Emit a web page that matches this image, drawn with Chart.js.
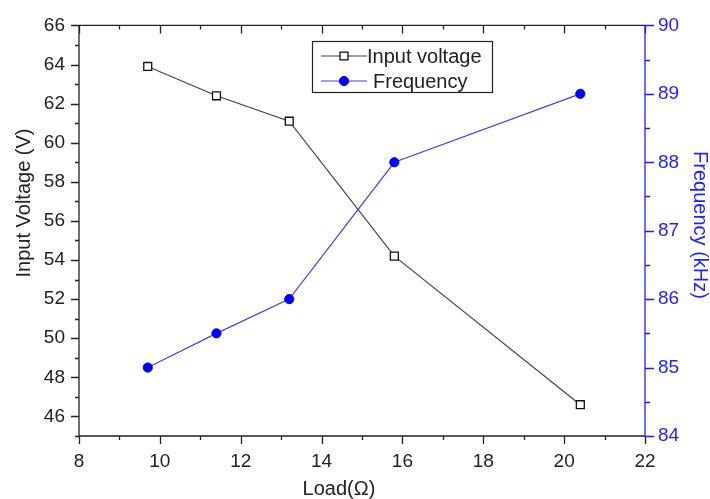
<!DOCTYPE html>
<html>
<head>
<meta charset="utf-8">
<script src="https://cdn.jsdelivr.net/npm/chart.js@4.4.1/dist/chart.umd.min.js"></script>
<style>
  html, body { margin: 0; padding: 0; background: #fff; }
  #wrap { width: 710px; height: 499px; position: relative; }
</style>
</head>
<body>
<div id="wrap"><canvas id="chart"></canvas></div>
<script>
// data
const loadOhm = [9.7, 11.4, 13.2, 15.8, 20.4];
const inputVoltage = [63.9, 62.4, 61.1, 54.2, 46.6];
const frequencyKHz = [85, 85.5, 86, 88, 89];

// tick labels
const xTicks = [8, 10, 12, 14, 16, 18, 20, 22];
const leftTicks = [46, 48, 50, 52, 54, 56, 58, 60, 62, 64, 66];
const rightTicks = [84, 85, 86, 87, 88, 89, 90];

const seriesLabels = ['Input voltage', 'Frequency'];
const axisTitles = { x: 'Load(Ω)', y: 'Input Voltage (V)', y2: 'Frequency (kHz)' };

const BLUE = '#1f1fff';
const INK = '#222';
const FONT = 'Liberation Sans, Arial, sans-serif';

// axes lines + major/minor ticks the Origin way
const axesFrame = {
  id: 'axesFrame',
  beforeDatasetsDraw(chart) {
    const { ctx, chartArea: a, scales } = chart;
    const x = scales.x, yl = scales.y, yr = scales.y2;
    ctx.save();
    ctx.lineWidth = 1.3;
    ctx.strokeStyle = INK;
    ctx.beginPath();
    ctx.moveTo(a.left, a.top); ctx.lineTo(a.right, a.top);
    ctx.moveTo(a.left, a.bottom); ctx.lineTo(a.right, a.bottom);
    ctx.moveTo(a.left, a.top); ctx.lineTo(a.left, a.bottom);
    // x ticks: bottom outward, top inward
    for (let v = 8; v <= 22; v += 1) {
      const px = Math.round(x.getPixelForValue(v)) + 0.5;
      const len = v % 2 === 0 ? 8 : 4;
      ctx.moveTo(px, a.bottom); ctx.lineTo(px, a.bottom + len);
      ctx.moveTo(px, a.top); ctx.lineTo(px, a.top + len);
    }
    // left ticks outward
    for (let v = 45; v <= 66; v += 1) {
      const py = Math.round(yl.getPixelForValue(v)) + 0.5;
      const len = v % 2 === 0 ? 8 : 4;
      ctx.moveTo(a.left, py); ctx.lineTo(a.left - len, py);
    }
    ctx.stroke();

    ctx.strokeStyle = BLUE;
    ctx.beginPath();
    ctx.moveTo(a.right, a.top); ctx.lineTo(a.right, a.bottom);
    for (let v = 84; v <= 90; v += 0.5) {
      const py = Math.round(yr.getPixelForValue(v)) + 0.5;
      const len = Number.isInteger(v) ? 9 : 5;
      ctx.moveTo(a.right, py); ctx.lineTo(a.right + len, py);
    }
    ctx.stroke();

    // axis titles (placed like the original, a bit off-centre)
    ctx.font = '20px ' + FONT;
    ctx.textAlign = 'center';
    ctx.textBaseline = 'middle';
    ctx.fillStyle = INK;
    ctx.fillText(axisTitles.x, 339, 489);
    ctx.save();
    ctx.translate(24, 203);
    ctx.rotate(-Math.PI / 2);
    ctx.fillText(axisTitles.y, 0, 0);
    ctx.restore();
    ctx.save();
    ctx.fillStyle = BLUE;
    ctx.translate(700, 225);
    ctx.rotate(Math.PI / 2);
    ctx.fillText(axisTitles.y2, 0, 0);
    ctx.restore();
    ctx.restore();
  }
};

// legend box inside the plot
const boxLegend = {
  id: 'boxLegend',
  afterDatasetsDraw(chart) {
    const { ctx } = chart;
    const bx = 312, by = 41, bw = 180, bh = 51;
    ctx.save();
    ctx.fillStyle = '#fff';
    ctx.fillRect(bx, by, bw, bh);
    ctx.strokeStyle = INK;
    ctx.lineWidth = 1.2;
    ctx.strokeRect(bx + 0.5, by + 0.5, bw, bh);
    ctx.font = '20px ' + FONT;
    ctx.textBaseline = 'middle';

    chart.data.datasets.forEach((ds, i) => {
      const cy = by + 15 + i * 25;
      ctx.strokeStyle = ds.borderColor;
      ctx.lineWidth = 1.2;
      ctx.beginPath();
      ctx.moveTo(bx + 9, cy); ctx.lineTo(bx + 55, cy);
      ctx.stroke();
      ctx.fillStyle = ds.pointBackgroundColor;
      ctx.strokeStyle = ds.pointBorderColor;
      ctx.lineWidth = ds.pointBorderWidth;
      ctx.beginPath();
      if (ds.pointStyle === 'rect') {
        const s = ds.pointRadius * Math.SQRT1_2;
        ctx.rect(bx + 32 - s, cy - s, 2 * s, 2 * s);
      } else {
        ctx.arc(bx + 32, cy, ds.pointRadius, 0, Math.PI * 2);
      }
      ctx.fill();
      ctx.stroke();
      ctx.fillStyle = INK;
      ctx.fillText(ds.label, bx + (i === 0 ? 55 : 61), cy + 1);
    });
    ctx.restore();
  }
};

const config = {
  type: 'line',
  data: {
    datasets: [
      {
        label: seriesLabels[0],
        data: loadOhm.map((v, i) => ({ x: v, y: inputVoltage[i] })),
        yAxisID: 'y',
        borderColor: '#444',
        borderWidth: 1.2,
        pointStyle: 'rect',
        pointRadius: 5.6,
        pointBorderWidth: 1.3,
        pointBackgroundColor: '#fff',
        pointBorderColor: '#111',
        tension: 0
      },
      {
        label: seriesLabels[1],
        data: loadOhm.map((v, i) => ({ x: v, y: frequencyKHz[i] })),
        yAxisID: 'y2',
        borderColor: '#4040ff',
        borderWidth: 1.2,
        pointStyle: 'circle',
        pointRadius: 4.6,
        pointBorderWidth: 1,
        pointBackgroundColor: '#0000f0',
        pointBorderColor: '#0000f0',
        tension: 0
      }
    ]
  },
  options: {
    responsive: true,
    maintainAspectRatio: false,
    animation: false,
    layout: { padding: { top: 19, right: 0, left: 0, bottom: 0 } },
    plugins: {
      legend: { display: false },
      tooltip: { enabled: false }
    },
    scales: {
      x: {
        type: 'linear',
        position: 'bottom',
        min: 8,
        max: 22,
        afterBuildTicks: (s) => { s.ticks = xTicks.map(v => ({ value: v })); },
        afterFit: (s) => { s.height = 63; },
        grid: { display: false, drawTicks: false },
        border: { display: false },
        ticks: { color: INK, padding: 14, font: { family: FONT, size: 19 } }
      },
      y: {
        type: 'linear',
        position: 'left',
        min: 45,
        max: 66,
        afterBuildTicks: (s) => { s.ticks = leftTicks.map(v => ({ value: v })); },
        afterFit: (s) => { s.width = 79; },
        grid: { display: false, drawTicks: false },
        border: { display: false },
        ticks: { color: INK, padding: 14, font: { family: FONT, size: 19 } }
      },
      y2: {
        type: 'linear',
        position: 'right',
        min: 84,
        max: 90,
        afterBuildTicks: (s) => { s.ticks = rightTicks.map(v => ({ value: v })); },
        afterFit: (s) => { s.width = 65; },
        grid: { display: false, drawTicks: false },
        border: { display: false },
        ticks: { color: BLUE, padding: 13, font: { family: FONT, size: 19 } }
      }
    }
  },
  plugins: [axesFrame, boxLegend]
};

new Chart(document.querySelector('#chart'), config);
</script>
</body>
</html>
